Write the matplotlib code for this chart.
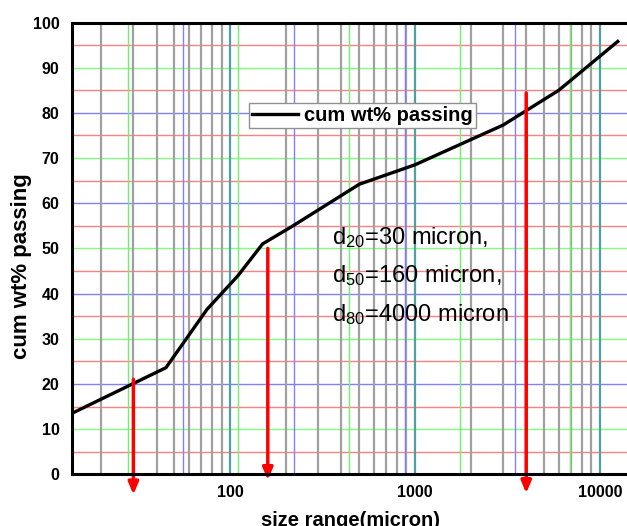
import numpy as np
import matplotlib
matplotlib.use("Agg")
import matplotlib.pyplot as plt

plt.rcParams['font.family'] = ['Liberation Sans', 'DejaVu Sans']
plt.rcParams['mathtext.fontset'] = 'custom'
plt.rcParams['mathtext.rm'] = 'Liberation Sans'
plt.rcParams['mathtext.it'] = 'Liberation Sans:italic'
plt.rcParams['mathtext.bf'] = 'Liberation Sans:bold'

# cumulative size distribution
size_micron = [13.96, 45, 75, 110, 150, 215, 500, 1000, 3000, 6000, 12500]
cum_passing = [13.5, 23.6, 36.5, 43.9, 51.0, 54.8, 64.2, 68.5, 77.3, 85.0, 95.8]

# characteristic sizes d20, d50, d80
d_percent = [20, 50, 80]
d_size = [30, 160, 4000]
arrow_top = [21, 50, 84.4]
arrow_tip = [-4.5, -1.3, -4.2]

y_ticks = list(range(0, 101, 10))
x_ticks = [100, 1000, 10000]
x_tick_labels = ['100', '1000', '10000']

W, H = 627, 526
fig = plt.figure(figsize=(W / 100, H / 100), dpi=100)
left_px, right_px, top_px, bottom_px = 72, 640, 22.5, 474.3
ax_w, ax_h = right_px - left_px, bottom_px - top_px
ax = fig.add_axes([left_px / W, 1 - bottom_px / H, ax_w / W, ax_h / H])
ax.set_xscale('log')
ax.set_xlim(13.96, 16500)
ax.set_ylim(0, 100)

# horizontal grid: red at odd fives, green/blue alternating at tens
for v in range(5, 100, 10):
    ax.axhline(v, color='#ff8080', lw=1.0, zorder=1)
for v in range(10, 100, 10):
    c = '#80ff80' if (v // 10) % 2 == 1 else '#8080ff'
    ax.axhline(v, color=c, lw=1.0, zorder=1)

# vertical grid: gray minor decades, teal majors, green/blue sieve series
for dec in [10, 100, 1000, 10000]:
    for m in range(2, 10):
        ax.axvline(m * dec, color='#a0a0a0', lw=1.6, zorder=1)
for dec in [100, 1000, 10000]:
    ax.axvline(dec, color='#4fa0a0', lw=1.6, zorder=1.2)
for k in range(5):
    g = 27.9 * 3.97 ** k
    ax.axvline(g, color='#70f070', lw=1.0, zorder=1.1)
    if k < 4:
        ax.axvline(2 * g, color='#8080ff', lw=1.0, zorder=1.1)

ax.plot(size_micron, cum_passing, color='black', lw=2.4, zorder=3,
        label='cum wt% passing', solid_joinstyle='round')

for x, top, tip in zip(d_size, arrow_top, arrow_tip):
    ax.annotate('', xy=(x, tip), xytext=(x, top),
                arrowprops=dict(arrowstyle='-|>,head_length=0.6,head_width=0.25',
                                color='red', lw=2.5, mutation_scale=12,
                                shrinkA=0, shrinkB=0),
                annotation_clip=False, zorder=4)

labels = [rf'd$_{{{p}}}$=' + f'{s} micron' + (',' if i < 2 else '')
          for i, (p, s) in enumerate(zip(d_percent, d_size))]
for lbl, yv in zip(labels, [55.2, 46.8, 38.2]):
    ax.text(355, yv, lbl, fontsize=17, va='top', ha='left', zorder=5)

ax.set_yticks(y_ticks)
ax.set_yticklabels([str(v) for v in y_ticks], fontsize=11.5, fontweight='bold')
ax.set_xticks(x_ticks)
ax.set_xticklabels(x_tick_labels, fontsize=11.5, fontweight='bold')
ax.xaxis.set_minor_locator(matplotlib.ticker.NullLocator())
ax.tick_params(axis='both', length=0)
ax.tick_params(axis='y', pad=9)
ax.tick_params(axis='x', pad=8)

ax.set_ylabel('cum wt% passing', fontsize=16, fontweight='bold')
ax.yaxis.set_label_coords((32 - left_px) / ax_w, (bottom_px - 266.5) / ax_h)
ax.set_xlabel('size range(micron)', fontsize=14.5, fontweight='bold')
ax.xaxis.set_label_coords((350.5 - left_px) / ax_w, (bottom_px - 510.5) / ax_h)

for s in ['left', 'bottom', 'top']:
    ax.spines[s].set_linewidth(2.2)
    ax.spines[s].set_zorder(6)
ax.spines['right'].set_visible(False)

leg = ax.legend(loc='upper left', bbox_to_anchor=(249 / W, 1 - 103.3 / H),
                bbox_transform=fig.transFigure, fancybox=False, framealpha=1,
                edgecolor='#909090', borderpad=0.15, handlelength=2.3,
                handletextpad=0.3, borderaxespad=0,
                prop={'weight': 'bold', 'size': 14.5})
leg.get_frame().set_linewidth(1.0)
leg.set_zorder(7)

fig.savefig('out.png', dpi=100)
